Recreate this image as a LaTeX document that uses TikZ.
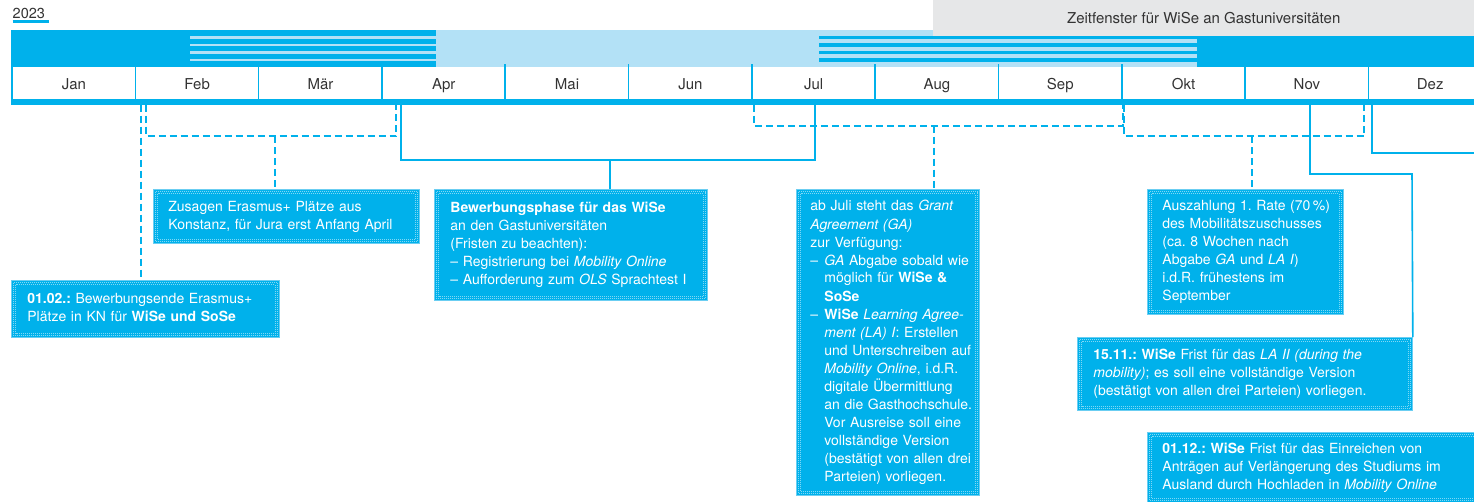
\documentclass[tikz,border=0pt]{standalone}
\usepackage{fontspec}
\setmainfont{TeX Gyre Heros}
\frenchspacing
\definecolor{cy}{HTML}{00B1EB}
\definecolor{lb}{HTML}{B3E1F6}
\definecolor{gr}{HTML}{E6E7E8}
\definecolor{tx}{HTML}{333333}
\newcommand{\dashitem}{\makebox[14pt][l]{–}}
\newcommand{\hang}{\hspace*{14pt}}
\begin{document}
\begin{tikzpicture}[x=1pt,y=-1pt,
  mon/.style={inner sep=0pt, minimum width=123.3pt, minimum height=32pt, anchor=north west},
  monlabel/.style={font=\fontsize{15}{18}\selectfont, text=tx, inner sep=0pt, anchor=base},
  infobox/.style={fill=cy, draw=lb!60!cy, line width=0.8pt, anchor=north west,
    inner sep=0pt, text=white, font=\fontsize{14}{18}\selectfont\frenchspacing, align=left},
  sep/.style={cy, line width=1.6pt},
  conn/.style={cy, line width=1.6pt},
  dconn/.style={cy, line width=1.6pt, dash pattern=on 7pt off 4pt},
  dots/.style={white, opacity=0.5, line width=0.8pt, dash pattern=on 0.8pt off 1.2pt}
]
\useasboundingbox (0,0) rectangle (1474,501);
\clip (0,0) rectangle (1474,501);

% year
\node[font=\fontsize{14.5}{16}\selectfont, text=tx, anchor=base west, inner sep=0pt] (yr) at (12.5,18) {2023};
\draw[cy, line width=2.3pt] (yr.base west |- 0,21.5) -- (49,21.5);

% bar
\fill[cy] (11,30) rectangle (436,67);
\fill[lb] (436,30) rectangle (1197,67);
\fill[cy] (1197,30) rectangle (1474,67);
\foreach \y in {37.3,44.8,52.3,59.8} {
  \draw[lb, line width=2.6pt] (190,\y) -- (436,\y);
  \draw[cy, line width=3.4pt] (819,\y) -- (1197,\y);
}
\node[fill=gr, minimum width=541pt, minimum height=36pt, anchor=north west, inner sep=0pt,
  font=\fontsize{15}{18}\selectfont, text=tx] (zf) at (933,0) {Zeitfenster für WiSe an Gastuniversitäten};

% months
\foreach \m [count=\i from 0] in {Jan,Feb,Mär,Apr,Mai,Jun,Jul,Aug,Sep,Okt,Nov,Dez} {
  \node[mon] (m\i) at ({12+123.3*\i},67) {};
  \node[monlabel] (l\i) at (m\i.center |- 0,89.5) {\m};
  \draw[sep] ([yshift=3pt]m\i.north west) -- (m\i.south west);
}
\draw[cy, line width=5.5pt] (11,102) -- (1474,102);

% boxes
\node[infobox, minimum width=268pt, minimum height=57pt, text width=236pt] (b1) at (11,280)
 {\begin{tabular}{@{}l@{}}\textbf{01.02.:} Bewerbungsende Erasmus+\\
  Plätze in KN für \textbf{WiSe und SoSe}\end{tabular}};
\node[infobox, minimum width=266pt, minimum height=54pt, text width=236pt] (b2) at (153,189)
 {\begin{tabular}{@{}l@{}}Zusagen Erasmus+ Plätze aus\\
  Konstanz, für Jura erst Anfang April\end{tabular}};
\node[infobox, minimum width=273pt, minimum height=111pt, text width=241pt] (b3) at (434,189)
 {\begin{tabular}{@{}l@{}}\textbf{Bewerbungsphase für das WiSe}\\
  an den Gastuniversitäten\\
  (Fristen zu beachten):\\
  – Registrierung bei \textit{Mobility Online}\\
  – Aufforderung zum \textit{OLS} Sprachtest I\end{tabular}};
\node[infobox, minimum width=183pt, minimum height=306pt, text width=155pt] (b4) at (796,189)
 {\begin{tabular}{@{}l@{}}ab Juli steht das \textit{Grant}\\
  \textit{Agreement (GA)}\\
  zur Verfügung:\\
  \dashitem\textit{GA} Abgabe sobald wie\\
  \hang möglich für \textbf{WiSe \&}\\
  \hang\textbf{SoSe}\\
  \dashitem\textbf{WiSe} \textit{Learning Agree-}\\
  \hang\textit{ment (LA) I}: Erstellen\\
  \hang und Unterschreiben auf\\
  \hang\textit{Mobility Online}, i.d.R.\\
  \hang digitale Übermittlung\\
  \hang an die Gasthochschule.\\
  \hang Vor Ausreise soll eine\\
  \hang vollständige Version\\
  \hang (bestätigt von allen drei\\
  \hang Parteien) vorliegen.\end{tabular}};
\node[infobox, minimum width=196pt, minimum height=125pt, text width=166pt] (b5) at (1147,189)
 {\begin{tabular}{@{}l@{}}Auszahlung 1. Rate (70\,\%)\\
  des Mobilitätszuschusses\\
  (ca. 8 Wochen nach\\
  Abgabe \textit{GA} und \textit{LA I})\\
  i.d.R. frühestens im\\
  September\end{tabular}};
\node[infobox, minimum width=335pt, minimum height=73pt, text width=303pt] (b6) at (1077,337)
 {\begin{tabular}{@{}l@{}}\textbf{15.11.: WiSe} Frist für das \textit{LA II (during the}\\
  \textit{mobility)}; es soll eine vollständige Version\\
  (bestätigt von allen drei Parteien) vorliegen.\end{tabular}};
\node[infobox, minimum width=340pt, minimum height=70pt, text width=310pt] (b7) at (1147,432)
 {\begin{tabular}{@{}l@{}}\textbf{01.12.: WiSe} Frist für das Einreichen von\\
  Anträgen auf Verlängerung des Studiums im\\
  Ausland durch Hochladen in \textit{Mobility Online}\end{tabular}};

\foreach \n in {b1,b2,b3,b4,b5,b6,b7} {
  \draw[dots] ([shift={(2.5pt,-2.5pt)}]\n.north west) rectangle ([shift={(-2.5pt,2.5pt)}]\n.south east);
  \draw[dots] ([shift={(4.6pt,-4.6pt)}]\n.north west) rectangle ([shift={(-4.6pt,4.6pt)}]\n.south east);
}

% connectors
\coordinate (c1) at (141,104.5);
\draw[dconn] (c1) -- (c1 |- b1.north);

\coordinate (c2a) at (146,104.5); \coordinate (c2b) at (396,136); \coordinate (c2m) at (275,136);
\draw[dconn] (c2a) |- (c2b) -- (c2b |- c2a);
\draw[dconn] (c2m) -- (c2m |- b2.north);

\coordinate (c3a) at (401,104.5); \coordinate (c3b) at (815,160); \coordinate (c3m) at (610,160);
\draw[conn] (c3a) |- (c3b) -- (c3b |- c3a);
\draw[conn] (c3m) -- (c3m |- b3.north);

\coordinate (c4a) at (754,104.5); \coordinate (c4b) at (1123,125.7); \coordinate (c4m) at (934,125.7);
\draw[dconn] (c4a) |- (c4b) -- (c4b |- c4a);
\draw[dconn] (c4m) -- (c4m |- b4.north);

\coordinate (c5a) at (1124,104.5); \coordinate (c5b) at (1364,136); \coordinate (c5m) at (1252,136);
\draw[dconn] (c5a) |- (c5b) -- (c5b |- c5a);
\draw[dconn] (c5m) -- (c5m |- b5.north);

\coordinate (c6a) at (1310,104.5); \coordinate (c6b) at (1412,174);
\draw[conn] (c6a) |- (c6b) -- (b6.north east);

\coordinate (c7a) at (1372,104.5); \coordinate (c7b) at (1480,153);
\draw[conn] (c7a) |- (c7b);
\end{tikzpicture}
\end{document}
